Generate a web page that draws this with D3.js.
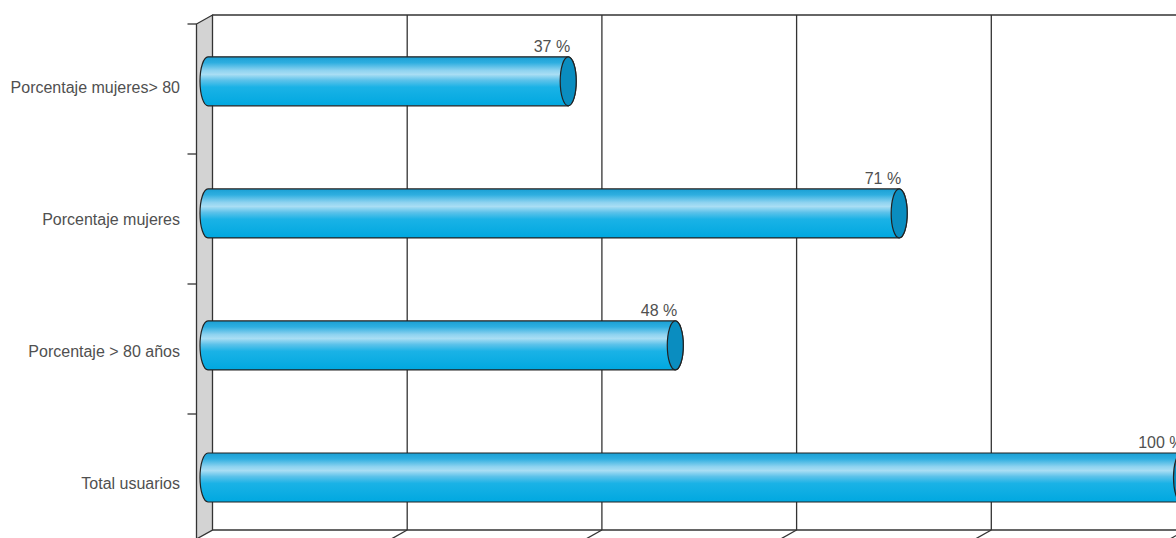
<!DOCTYPE html>
<html><head><meta charset="utf-8">
<script src="https://cdn.jsdelivr.net/npm/d3@7"></script>
<style>
html,body{margin:0;padding:0;background:#fff;}
svg{display:block;}
text{font-family:"Liberation Sans Narrow","Liberation Sans",Arial,sans-serif;fill:#505050;}
</style></head>
<body><svg id="chart" width="1176" height="538"></svg>
<script>
const categories = ["Porcentaje mujeres> 80","Porcentaje mujeres","Porcentaje > 80 años","Total usuarios"];
const values = [37, 71, 48, 100];
const valueLabels = ["37 %","71 %","48 %","100 %"];
const xTicks = [0, 20, 40, 60, 80, 100];

const W = 1176, H = 538;
const svg = d3.select("#chart");
const depthX = 16, depthY = 9;       // 3D depth offset (back -> front)
const backTop = 15, backBottom = 530;

const x = d3.scaleLinear().domain([0, 100]).range([212.5, 1186]);   // back plane
const y = d3.scaleBand().domain(categories).range([24, 544]);         // front plane (ticks)
const yLabel = d3.scaleBand().domain(categories).range([21, 549]);    // label centres
const yBar = d3.scaleBand().domain(categories).range([15.3, 543.5]);  // bar centres

const defs = svg.append("defs");
const grad = defs.append("linearGradient").attr("id","barGrad").attr("x1",0).attr("y1",0).attr("x2",0).attr("y2",1);
[[0,"#1a9fd4"],[0.12,"#2eaee0"],[0.28,"#8fd3f0"],[0.36,"#a9def4"],[0.48,"#5cc2ea"],[0.62,"#1ab2e6"],[1,"#00a8e0"]]
  .forEach(([o,c]) => grad.append("stop").attr("offset",o).attr("stop-color",c));

const line = "#333";
// left wall
svg.append("path")
  .attr("d", `M${x(0)-depthX},${backTop+depthY} L${x(0)},${backTop} L${x(0)},${backBottom} L${x(0)-depthX},${backBottom+depthY} Z`)
  .attr("fill","#d3d3d3").attr("stroke",line).attr("stroke-width",1.3);

// top back edge
svg.append("line").attr("x1",x(0)).attr("x2",W).attr("y1",backTop).attr("y2",backTop)
  .attr("stroke",line).attr("stroke-width",1.3);
// floor back edge
svg.append("line").attr("x1",x(0)).attr("x2",W).attr("y1",backBottom).attr("y2",backBottom)
  .attr("stroke",line).attr("stroke-width",1.3);

// vertical grid + floor diagonals
const grid = svg.append("g");
xTicks.slice(1).forEach(t => {
  grid.append("line").attr("x1",x(t)).attr("x2",x(t)).attr("y1",backTop).attr("y2",backBottom)
    .attr("stroke",line).attr("stroke-width",1.3);
  grid.append("line").attr("x1",x(t)).attr("x2",x(t)-depthX).attr("y1",backBottom).attr("y2",backBottom+depthY)
    .attr("stroke",line).attr("stroke-width",1.3);
});

// left axis ticks
categories.forEach(c => {
  svg.append("line").attr("x1",x(0)-depthX-9).attr("x2",x(0)-depthX)
    .attr("y1",y(c)).attr("y2",y(c)).attr("stroke",line).attr("stroke-width",1.3);
});

// category labels
svg.append("g").selectAll("text").data(categories).join("text")
  .attr("x",180).attr("y",d=>yLabel(d)+yLabel.bandwidth()/2)
  .attr("dy","0.35em").attr("text-anchor","end").attr("font-size",16)
  .text(d=>d);

// bars (cylinders)
const shift = 4.5;                 // bar depth position from back plane
const barH = 49, rx = 8, ry = barH/2;
const bars = svg.append("g");
categories.forEach((c,i) => {
  const x0 = x(0) - shift, x1 = x(values[i]) - shift;
  const cy = yBar(c) + yBar.bandwidth()/2;
  const top = cy - ry, bot = cy + ry;
  bars.append("path")
    .attr("d", `M${x0},${top} L${x1},${top} A${rx},${ry} 0 0 1 ${x1},${bot} L${x0},${bot} A${rx},${ry} 0 0 1 ${x0},${top} Z`)
    .attr("fill","url(#barGrad)").attr("stroke","#222").attr("stroke-width",1.2);
  bars.append("ellipse").attr("cx",x1).attr("cy",cy).attr("rx",rx).attr("ry",ry)
    .attr("fill","#0a8dc0").attr("stroke","#222").attr("stroke-width",1.2);
  bars.append("text").attr("x",x1+2).attr("y",top-5).attr("text-anchor","end")
    .attr("font-size",16).text(valueLabels[i]);
});
</script></body></html>
